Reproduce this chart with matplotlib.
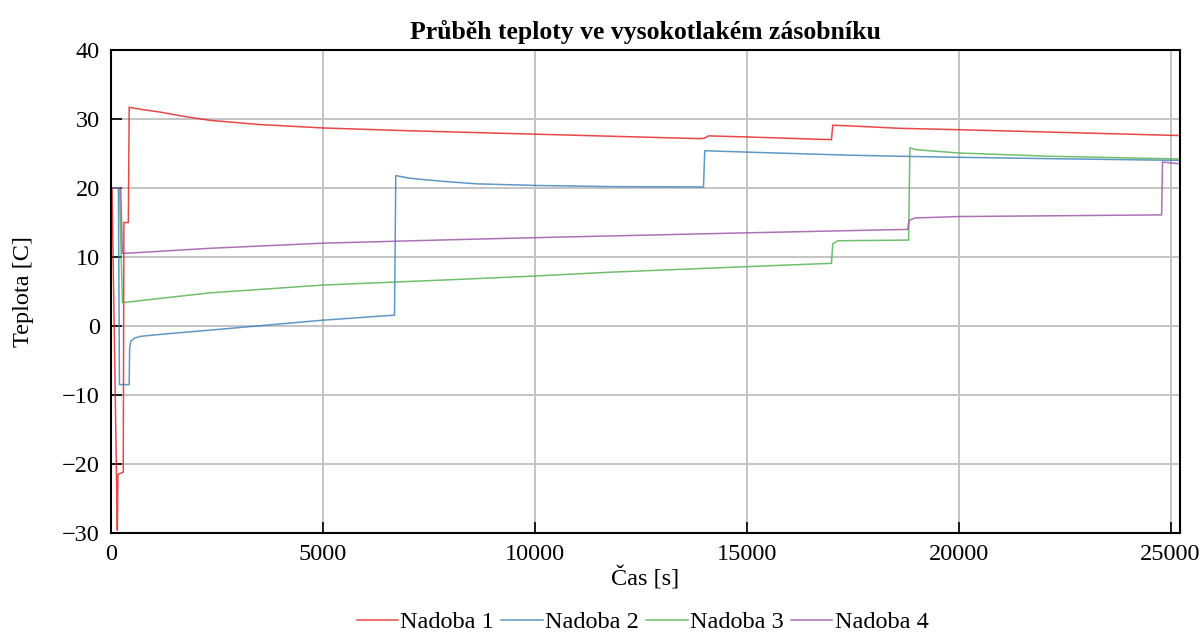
import numpy as np
import matplotlib.pyplot as plt

# čas [s] a teplota [C] pro jednotlivé nádoby
t1 = [0, 25, 150, 165, 290, 305, 410, 430, 700, 1160, 1700, 2340, 3500, 5000, 7000,
      10000, 11800, 13900, 13990, 14100, 15000, 16000, 17000, 17030, 17440, 18600,
      20000, 22150, 25220]
T1 = [20, 20, -29.6, -21.5, -21.2, 15.0, 15.0, 31.7, 31.4, 31.0, 30.4, 29.8, 29.2, 28.7, 28.3,
      27.8, 27.5, 27.15, 27.2, 27.55, 27.4, 27.2, 27.0, 29.1, 29.0, 28.65,
      28.45, 28.1, 27.6]

t2 = [0, 175, 200, 430, 440, 470, 540, 700, 1200, 2340, 5000, 6690, 6720, 7060, 7850,
      8630, 10000, 11800, 13980, 14010, 15000, 17440, 18600, 20000, 22150, 25220]
T2 = [20, 20, -8.5, -8.5, -3.2, -2.2, -1.8, -1.5, -1.2, -0.6, 0.84, 1.57, 21.8, 21.4, 20.95,
      20.6, 20.37, 20.2, 20.15, 25.4, 25.2, 24.75, 24.6, 24.45, 24.25, 24.0]

t3 = [0, 200, 270, 300, 600, 1160, 2340, 5000, 7850, 10000, 11800, 15000, 17000, 17030,
      17150, 18820, 18850, 19000, 20000, 22150, 25220]
T3 = [20, 20, 3.4, 3.4, 3.6, 4.0, 4.8, 5.93, 6.66, 7.24, 7.8, 8.6, 9.08, 11.9,
      12.35, 12.45, 25.8, 25.55, 25.07, 24.6, 24.2]

t4 = [0, 230, 270, 340, 2340, 5000, 7850, 10000, 11800, 15000, 18800, 18830, 18970,
      20000, 24790, 24810, 25220]
T4 = [20, 20, 10.55, 10.53, 11.26, 12.0, 12.47, 12.8, 13.05, 13.5, 14.0, 15.3, 15.65,
      15.86, 16.1, 23.76, 23.5]

serie = [
    (t1, T1, 'Nadoba 1', '#e41a1c'),
    (t2, T2, 'Nadoba 2', '#377eb8'),
    (t3, T3, 'Nadoba 3', '#4daf4a'),
    (t4, T4, 'Nadoba 4', '#984ea3'),
]

plt.rcParams['font.family'] = ['Liberation Serif', 'DejaVu Serif']
plt.rcParams['font.size'] = 17.5

fig = plt.figure(figsize=(12.01, 6.36), dpi=100)
ax = fig.add_axes([0.0924, 0.162, 0.89, 0.7594])

for t, T, nazev, barva in serie:
    ax.plot(t, T, color=barva, lw=1.1, alpha=0.8, label=nazev)

ax.set_xlim(0, 25220)
ax.set_ylim(-30, 40)
ax.set_xticks(np.arange(0, 25001, 5000))
ax.set_yticks(np.arange(-30, 41, 10))
ax.grid(True, color='#c4c4c4', lw=1.4)
ax.set_axisbelow(True)
ax.tick_params(direction='in', length=8, width=1.2, pad=8)
for s in ax.spines.values():
    s.set_linewidth(1.5)

ax.set_title('Průběh teploty ve vysokotlakém zásobníku', fontsize=18.5,
             fontweight='bold', pad=8)
ax.set_xlabel('Čas [s]', labelpad=1)
ax.set_ylabel('Teplota [C]', labelpad=20)

fig.legend(loc='center', bbox_to_anchor=(0.535, 0.022), ncol=4, frameon=False,
           handlelength=1.7, handletextpad=0.1, columnspacing=0.3)

plt.savefig('out.png', dpi=100)
